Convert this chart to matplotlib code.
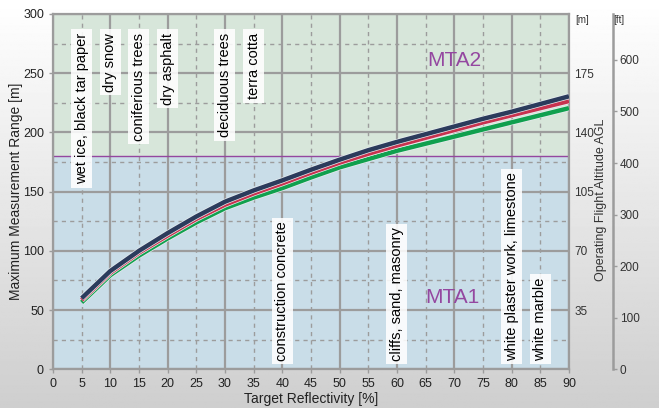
"""Max measurement range vs target reflectivity (MTA1 / MTA2 zones)."""
import matplotlib

matplotlib.use("Agg")
import matplotlib.pyplot as plt
import matplotlib.patheffects as pe
import numpy as np

# ── Data ─────────────────────────────────────────────────────────────────
reflectivity = [5, 10, 15, 20, 25, 30, 35, 40, 45, 50, 55, 60, 65, 70, 75, 80, 85, 90]
range_navy = [60, 83, 100, 115, 129, 141.5, 151, 159.5, 168.5, 177, 185, 192,
              198.5, 205, 211.5, 217.5, 224, 230.5]
range_red = [58.5, 81.5, 98.5, 113, 127, 139, 148.5, 157, 166, 174.5, 182, 189,
             195.5, 202, 208.5, 214.5, 220.5, 226.5]
range_green = [56.5, 79.5, 96, 110.5, 124, 136, 145, 153, 162, 170.5, 177.5,
               184.5, 190.5, 196.5, 202.5, 208.5, 214.5, 220.5]

mta_limit = 180
upper_materials = ["wet ice, black tar paper", "dry snow", "coniferious trees",
                   "dry asphalt", "deciduous trees", "terra cotta"]
upper_x = [5, 10, 15, 20, 30, 35]
lower_materials = ["construction concrete", "cliffs, sand, masonry",
                   "white plaster work, limestone", "white marble"]
lower_x = [40, 60, 80, 85]

m_ticks = [35, 70, 105, 140, 175]
ft_ticks = [0, 100, 200, 300, 400, 500, 600]

# ── Colours ──────────────────────────────────────────────────────────────
NAVY = "#2b3b5c"
RED = "#c8324f"
GREEN = "#10a04e"
PURPLE = "#9447a0"
GRID = "#9c9c9c"
LOW_BG = "#c9dde8"
HIGH_BG = "#d7e6da"
TXT = "#222222"

plt.rcParams["font.family"] = ["Liberation Sans", "DejaVu Sans"]

fig = plt.figure(figsize=(6.59, 4.08), dpi=100)

# background gradient
bg = fig.add_axes([0, 0, 1, 1], zorder=-10)
grad = np.linspace(1.0, 0.81, 256)[:, None] * np.ones((1, 4))
bg.imshow(grad, cmap="gray", vmin=0, vmax=1, aspect="auto", extent=[0, 1, 0, 1])
bg.axis("off")

ax = fig.add_axes([0.0804, 0.0949, 0.783, 0.8708])
ax.set_xlim(0, 90)
ax.set_ylim(0, 300)
ax.axhspan(0, mta_limit, color=LOW_BG, zorder=0)
ax.axhspan(mta_limit, 300, color=HIGH_BG, zorder=0)

ax.set_xticks(range(0, 91, 5))
ax.set_yticks(range(0, 301, 50))
ax.set_yticks(range(25, 300, 50), minor=True)
ax.grid(which="major", color=GRID, lw=1.6, zorder=1)
ax.grid(which="minor", axis="y", color=GRID, lw=1.0, ls=(0, (3, 3)), zorder=1)
ax.tick_params(which="minor", length=0)
# odd multiples of 5 get dashed lines instead of solid ones
for t in ax.get_xgridlines()[1::2]:
    t.set_visible(False)
for v in range(5, 90, 10):
    ax.axvline(v, color=GRID, lw=1.0, ls=(0, (3, 3)), zorder=1)

for s in ax.spines.values():
    s.set_color(GRID)
    s.set_linewidth(1.6)
ax.tick_params(colors=GRID, labelcolor=TXT, length=3, width=1, labelsize=9)

ax.axhline(mta_limit, color=PURPLE, lw=1.0, zorder=2)

halo = [pe.Stroke(linewidth=4.2, foreground="#e8eef0"), pe.Normal()]
for ys, c in ((range_green, GREEN), (range_red, RED), (range_navy, NAVY)):
    ax.plot(reflectivity, ys, color=c, lw=3.2, solid_capstyle="butt",
            solid_joinstyle="round", zorder=4, path_effects=halo)

ax.text(70, 261, "MTA2", color=PURPLE, fontsize=15, ha="center", va="center", zorder=5)
ax.text(69.7, 61, "MTA1", color=PURPLE, fontsize=15, ha="center", va="center", zorder=5)

box = dict(facecolor="white", edgecolor="none", alpha=0.88, pad=2.5)
for name, xv in zip(upper_materials, upper_x):
    ax.text(xv, 284, name, rotation=90, ha="center", va="top", fontsize=10.5,
            color="black", bbox=box, zorder=6)
for name, xv in zip(lower_materials, lower_x):
    ax.text(xv, 7, name, rotation=90, ha="center", va="bottom", fontsize=10.5,
            color="black", bbox=box, zorder=6)

ax.set_xlabel("Target Reflectivity [%]", fontsize=10, color=TXT, labelpad=1)
ax.set_ylabel("Maximum Measurement Range [m]", fontsize=10, color=TXT, labelpad=0)

# right axis in metres (flight altitude = 0.7 x range)
m_ax = ax.secondary_yaxis("right", functions=(lambda v: v * 0.7, lambda v: v / 0.7))
m_ax.set_yticks(m_ticks)
m_ax.spines["right"].set_visible(False)
m_ax.tick_params(length=0, pad=4, labelsize=8.5, labelcolor="#333333")
ax.text(1.013, 0.998, "[m]", transform=ax.transAxes, fontsize=7,
        color="#333333", va="top")

# right axis in feet
k = 0.7 * 3.2808
ft_ax = ax.secondary_yaxis(1.085, functions=(lambda v: v * k, lambda v: v / k))
ft_ax.set_yticks(ft_ticks)
ft_ax.spines["right"].set_color(GRID)
ft_ax.spines["right"].set_linewidth(1.8)
ft_ax.tick_params(colors=GRID, labelcolor="#333333", length=3, width=1,
                  pad=2, labelsize=8.5)
ax.text(1.086, 0.998, "[ft]", transform=ax.transAxes, fontsize=7,
        color="#333333", va="top")
fig.text(0.9115, 0.51, "Operating Flight Altitude AGL", rotation=90, ha="center",
         va="center", fontsize=9, color="#333333")

fig.savefig("out.png", dpi=100)
